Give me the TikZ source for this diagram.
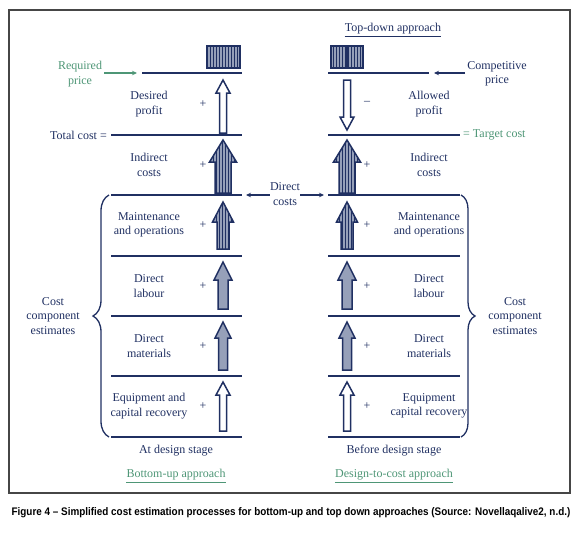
\documentclass[tikz,border=0pt]{standalone}
\usepackage{fontspec}
\setmainfont{Liberation Serif}
\newfontfamily\capfont{Liberation Sans}
\usetikzlibrary{arrows.meta,patterns,decorations.pathreplacing}
\definecolor{navy}{RGB}{32,48,98}
\definecolor{costgreen}{RGB}{78,150,118}
\definecolor{hatchgray}{RGB}{150,160,185}
\definecolor{framegray}{RGB}{70,70,70}
% block arrow: x, tail y, head base y, tip y, half shaft, half head, style
\newcommand{\blockarrow}[7]{%
  \draw[#7] ({#1-#5},#2) -- ({#1-#5},#3) -- ({#1-#6},#3) -- (#1,#4)
    -- ({#1+#6},#3) -- ({#1+#5},#3) -- ({#1+#5},#2) -- cycle;}
\tikzset{
  level/.style={navy, line width=1.6pt},
  lbl/.style={navy, align=center, font=\fontsize{12}{14.5}\selectfont, inner sep=0pt},
  greenlbl/.style={lbl, costgreen},
  hollow/.style={draw=navy, line width=1.5pt, fill=white},
  hatched/.style={draw=navy, line width=1.5pt, fill=hatchgray,
    postaction={pattern=vertical lines, pattern color=navy}},
  shaded/.style={draw=navy, line width=1.5pt, fill=hatchgray},
  pointer/.style={line width=1.2pt, -{Stealth[length=5pt,width=4.5pt]}},
  curly/.style={navy, line width=1.3pt, decorate},
}
\begin{document}
\begin{tikzpicture}[x=1pt, y=-1pt]
    \useasboundingbox (0,0) rectangle (580,536);
    \draw[framegray, line width=1.2pt] (9,10) rectangle (570,493);
    % Bottom-up levels
    \draw[level] (142,73) -- (242,73);
    \draw[level] (111,135) -- (242,135);
    \draw[level] (111,195) coordinate (dcL) -- (242,195) coordinate (dcLend);
    \draw[level] (111,256) -- (242,256);
    \draw[level] (111,316) -- (242,316);
    \draw[level] (111,376) -- (242,376);
    \draw[level] (111,437) -- (242,437);
    \coordinate (rpend) at (137,73);
    % Design-to-cost levels
    \draw[level] (328,73) -- (429,73);
    \coordinate (cpend) at (434,73);
    \draw[level] (328,135) -- (460,135);
    \draw[level] (328,195) coordinate (dcRend) -- (460,195);
    \draw[level] (328,256) -- (460,256);
    \draw[level] (328,316) -- (460,316);
    \draw[level] (328,376) -- (460,376);
    \draw[level] (328,437) -- (460,437);
    % Price boxes
    \draw[hatched] (207,46) rectangle (240,68);
    \draw[hatched] (331,46) rectangle (363,68);
    \draw[navy, line width=1.5pt] (347,46) -- (347,68);
    % Left-hand arrows
    \blockarrow{223}{133}{93}{80}{3.5}{7}{hollow}
    \blockarrow{223}{193}{162}{140}{8}{13.5}{hatched}
    \blockarrow{223}{249}{222}{202}{6}{10.5}{hatched}
    \blockarrow{223}{309}{280}{262}{5}{9}{shaded}
    \blockarrow{223}{370}{338}{322}{4.5}{8}{shaded}
    \blockarrow{223}{431}{395}{382}{3.5}{7}{hollow}
    % Right-hand arrows
    \blockarrow{347}{80}{117}{130}{3.5}{7}{hollow}
    \blockarrow{347}{193}{162}{140}{8}{13.5}{hatched}
    \blockarrow{347}{249}{222}{202}{6}{10.5}{hatched}
    \blockarrow{347}{309}{280}{262}{5}{9}{shaded}
    \blockarrow{347}{370}{338}{322}{4.5}{8}{shaded}
    \blockarrow{347}{431}{395}{382}{3.5}{7}{hollow}
    % Left-hand labels
    \node[greenlbl] (reqprice) at (80,74) {Required\\price};
    \node[lbl, anchor=east] (totalcost) at (107,135) {Total cost =};
    \node[lbl] (desprofit) at (149,104) {Desired\\profit};
    \node[lbl] (indirectL) at (149,165) {Indirect\\costs};
    \node[lbl] (maintL) at (149,225) {Maintenance\\and operations};
    \node[lbl] (labourL) at (149,286) {Direct\\labour};
    \node[lbl] (materialsL) at (149,346) {Direct\\materials};
    \node[lbl] (equipL) at (149,406) {Equipment and\\capital recovery};
    \node[lbl] (plus1) at (203,104) {+};
    \node[lbl] (plus2) at (203,165) {+};
    \node[lbl] (plus3) at (203,225) {+};
    \node[lbl] (plus4) at (203,286) {+};
    \node[lbl] (plus5) at (203,346) {+};
    \node[lbl] (plus6) at (203,406) {+};
    \node[lbl] (costL) at (53,316) {Cost\\component\\estimates};
    \node[lbl] (atstage) at (176,451) {At design stage};
    \node[greenlbl] (bottomup) at (176,475) {Bottom-up approach};
    \draw[costgreen, line width=0.9pt] ([yshift=-2pt]bottomup.south west) -- ([yshift=-2pt]bottomup.south east);
    % Right-hand labels
    \node[lbl] (topdown) at (393,29) {Top-down approach};
    \draw[navy, line width=0.9pt] ([yshift=-1.5pt]topdown.south west) -- ([yshift=-1.5pt]topdown.south east);
    \node[lbl] (compprice) at (497,74) {Competitive\\price};
    \node[lbl] (minus) at (367,103) {–};
    \node[lbl] (allowed) at (429,104) {Allowed\\profit};
    \node[greenlbl, anchor=west] (target) at (463,135) {= Target cost};
    \node[lbl] (indirectR) at (429,165) {Indirect\\costs};
    \node[lbl] (maintR) at (429,225) {Maintenance\\and operations};
    \node[lbl] (labourR) at (429,286) {Direct\\labour};
    \node[lbl] (materialsR) at (429,346) {Direct\\materials};
    \node[lbl] (equipR) at (429,406) {Equipment\\capital recovery};
    \node[lbl] (rplus1) at (367,165) {+};
    \node[lbl] (rplus2) at (367,225) {+};
    \node[lbl] (rplus3) at (367,286) {+};
    \node[lbl] (rplus4) at (367,346) {+};
    \node[lbl] (rplus5) at (367,406) {+};
    \node[lbl] (costR) at (515,316) {Cost\\component\\estimates};
    \node[lbl] (beforestage) at (394,451) {Before design stage};
    \node[greenlbl] (designcost) at (394,475) {Design-to-cost approach};
    \draw[costgreen, line width=0.9pt] ([yshift=-2pt]designcost.south west) -- ([yshift=-2pt]designcost.south east);
    % Direct costs
    \node[lbl] (direct) at (285,194) {Direct\\costs};
    \draw[pointer, navy] (direct.west |- dcLend) -- ([xshift=4pt]dcLend);
    \draw[pointer, navy] (direct.east |- dcRend) -- ([xshift=-4pt]dcRend);
    % Price pointers
    \draw[pointer, costgreen] (reqprice.east |- rpend) ++(2,0) -- (rpend);
    \draw[pointer, navy] (compprice.west |- cpend) ++(-2,0) -- (cpend);
    % Braces
    \draw[curly, decoration={brace, amplitude=16pt}] (109,437) -- (109,195);
    \draw[curly, decoration={brace, amplitude=14pt}] (461,195) -- (461,437);
    % Caption
    \node[inner sep=0pt] (caption) at (291,513) {\scalebox{0.9}[1]{\capfont\bfseries\fontsize{11}{13}\selectfont Figure 4 – Simplified cost estimation processes for bottom-up and top down approaches (Source: Novellaqalive2, n.d.)}};
\end{tikzpicture}
\end{document}
